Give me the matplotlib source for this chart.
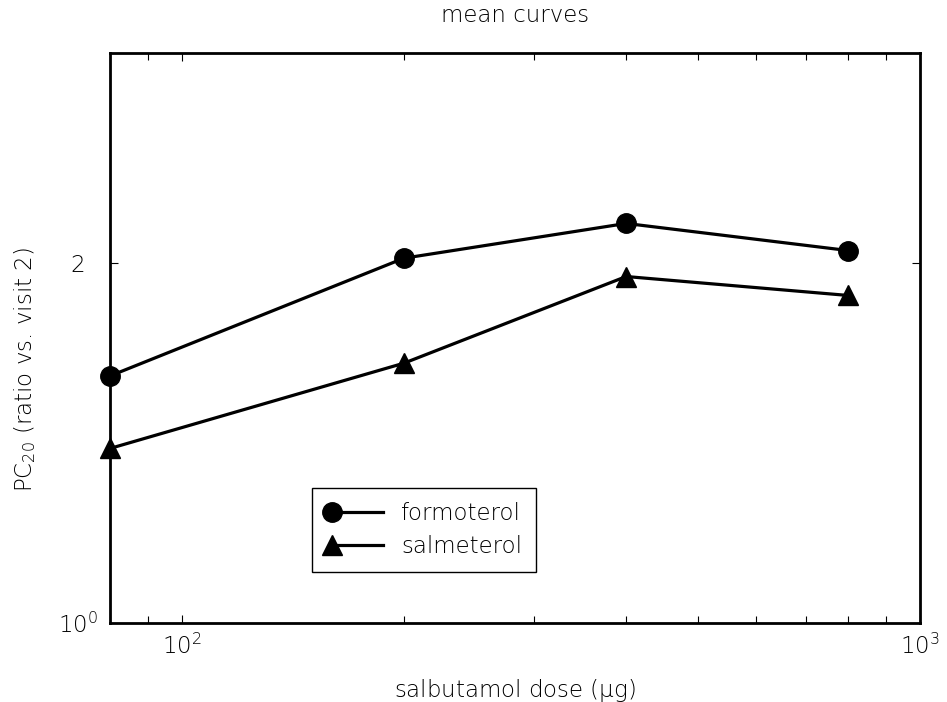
import numpy as np
import matplotlib.pyplot as plt
from matplotlib.lines import Line2D
from matplotlib.legend_handler import HandlerLine2D
from matplotlib.ticker import FixedLocator, NullFormatter, LogLocator

dose = [80, 200, 400, 800]
formoterol = [1.61, 2.02, 2.16, 2.05]
salmeterol = [1.40, 1.65, 1.95, 1.88]

plt.rcParams['font.family'] = ['DejaVu Sans']
plt.rcParams['font.weight'] = 'light'
plt.rcParams['mathtext.fontset'] = 'dejavusans'
plt.rcParams['mathtext.default'] = 'regular'
fs = 16.5


class FirstMarker(HandlerLine2D):
    # marker only at the left end of the legend line
    def create_artists(self, *args, **kwargs):
        arts = super().create_artists(*args, **kwargs)
        for a in arts:
            a.set_markevery([0])
        return arts


fig = plt.figure(figsize=(9.47, 7.02), dpi=100)
ax = fig.add_axes([0.1162, 0.1125, 0.8553, 0.812])

l1, = ax.plot(dose, formoterol, color='black', lw=2.3, marker='o', ms=14,
              clip_on=False)
l2, = ax.plot(dose, salmeterol, color='black', lw=2.3, marker='^', ms=14,
              clip_on=False)

ax.set_xscale('log')
ax.set_yscale('log')
ax.set_xlim(80, 1000)
ax.set_ylim(1, 3)

ax.xaxis.set_major_locator(FixedLocator([100, 1000]))
ax.set_xticklabels(['$10^2$', '$10^3$'])
ax.xaxis.set_minor_locator(LogLocator(base=10, subs=np.arange(2, 10)))
ax.xaxis.set_minor_formatter(NullFormatter())
ax.yaxis.set_major_locator(FixedLocator([1, 2]))
ax.set_yticklabels(['$10^0$', '2'])
ax.yaxis.set_minor_locator(FixedLocator([]))
ax.yaxis.set_minor_formatter(NullFormatter())

ax.tick_params(which='both', direction='in', top=True, right=True,
               labelsize=fs, colors='black')
ax.tick_params(axis='x', pad=8)
ax.tick_params(axis='y', pad=23)
for lab in ax.get_yticklabels():
    lab.set_ha('center')
ax.tick_params(which='major', length=6, width=0.8)
ax.tick_params(which='minor', length=5, width=0.8)
for s in ax.spines.values():
    s.set_linewidth(2)

fig.text(0.5438, 1 - 16 / 702, 'mean curves', fontsize=fs,
         ha='center', va='center')
fig.text(0.5438, 1 - 690 / 702, 'salbutamol dose ($\\mu$g)', fontsize=fs,
         ha='center', va='center')
fig.text(25 / 947, 1 - 370 / 702, 'PC$_{20}$ (ratio vs. visit 2)',
         fontsize=fs, ha='center', va='center', rotation=90)

leg = ax.legend([l1, l2], ['formoterol', 'salmeterol'], loc='lower left',
                bbox_to_anchor=(0.249, 0.0895), borderaxespad=0,
                fontsize=fs, fancybox=False, edgecolor='black',
                framealpha=1, handlelength=2.8, numpoints=2,
                borderpad=0.6, labelspacing=0.45, handletextpad=0.5,
                handler_map={Line2D: FirstMarker()})
leg.get_frame().set_linewidth(1)

fig.savefig('out.png', dpi=100)
